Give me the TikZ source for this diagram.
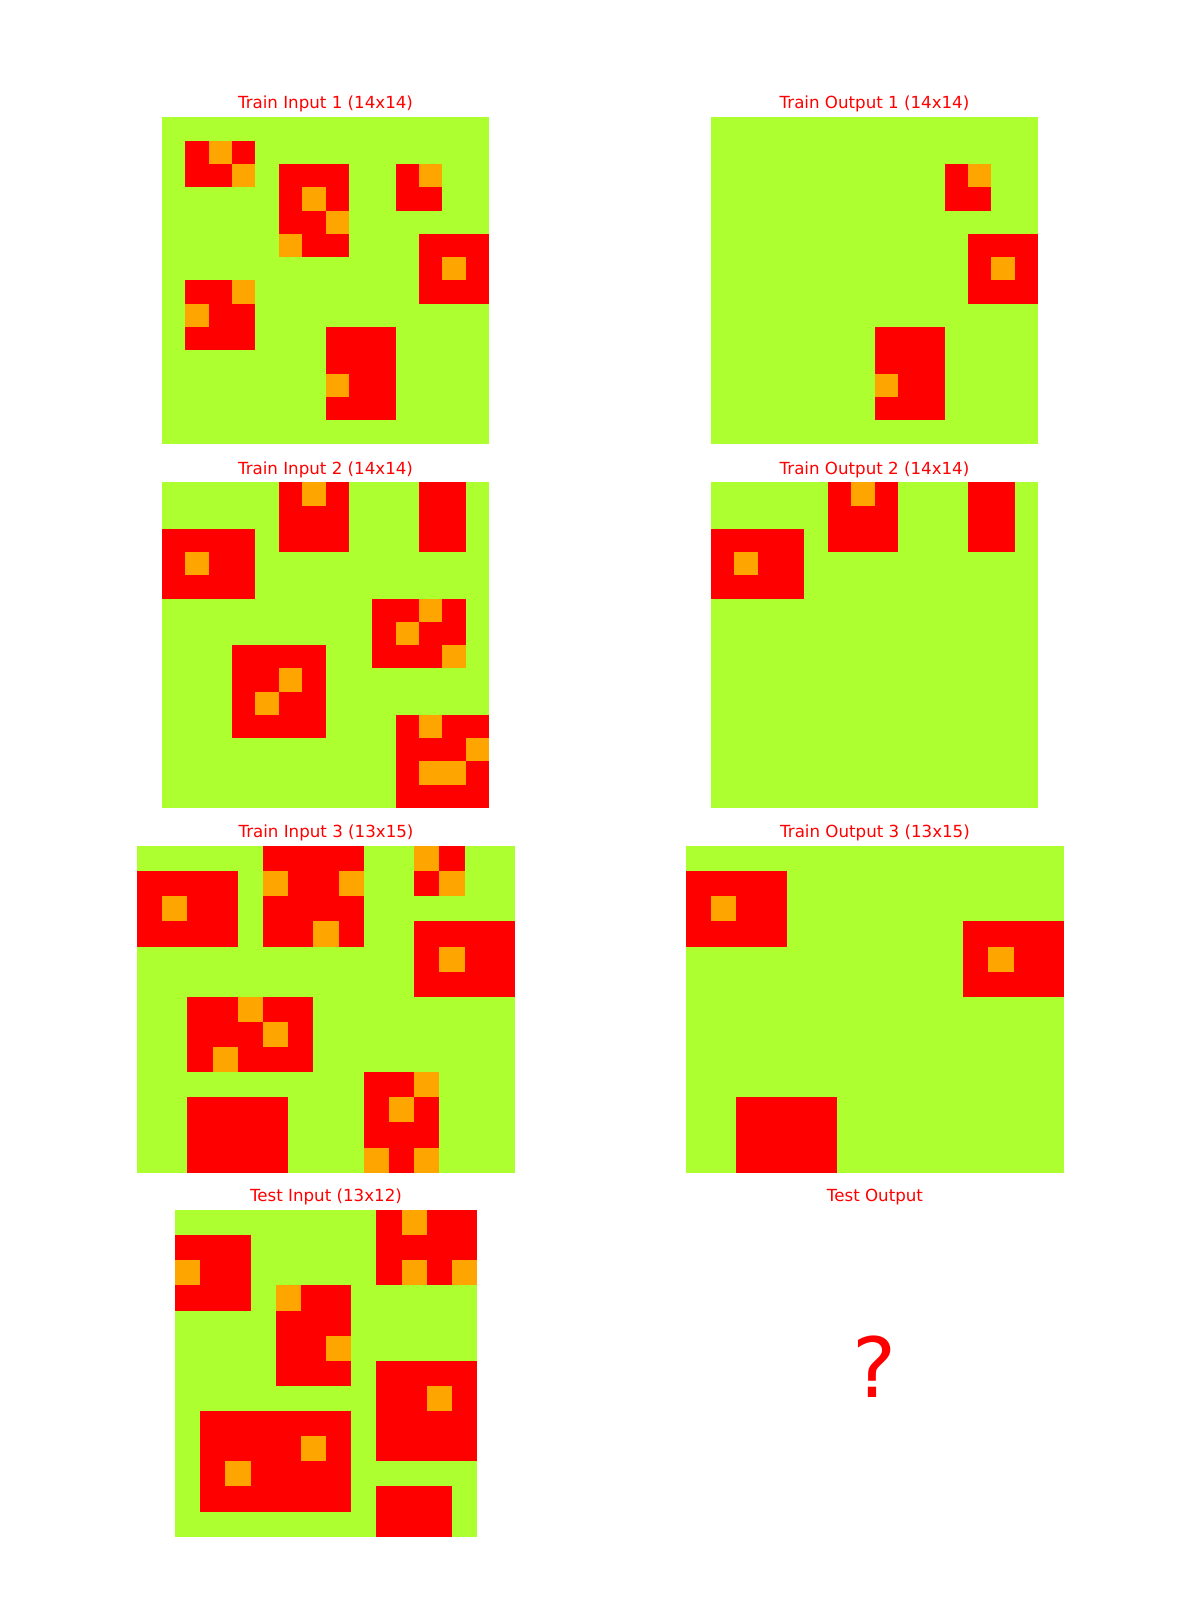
\documentclass[tikz,border=0pt]{standalone}
\usepackage{fontspec}
\setmainfont{DejaVu Sans}
\definecolor{bggreen}{HTML}{ADFF2F}
\definecolor{cred}{HTML}{FF0000}
\definecolor{corange}{HTML}{FFA500}
\definecolor{titlered}{HTML}{FF0000}
\newcommand\orcells[1]{\foreach \cc/\rr in {#1} {\fill[corange] (\cc,\rr) rectangle ++(1,1);}}
\newcommand\redblock[2]{\fill[cred] (#1) rectangle (#2);}
\begin{document}
\begin{tikzpicture}[x=1pt,y=-1pt,
  gtitle/.style={anchor=base,text=titlered,font=\fontsize{16.67}{20}\selectfont,inner sep=0pt},
  qmark/.style={anchor=base,text=titlered,font=\fontsize{83}{90}\selectfont,inner sep=0pt}]
\fill[white] (0,0) rectangle (1200,1600);
\useasboundingbox (0,0) rectangle (1200,1600);

% ---------- Titles ----------
\node[gtitle] (t1) at (325.5,109) {Train Input 1 (14x14)};
\node[gtitle] (t2) at (874.5,109) {Train Output 1 (14x14)};
\node[gtitle] (t3) at (325.5,474) {Train Input 2 (14x14)};
\node[gtitle] (t4) at (874.5,474) {Train Output 2 (14x14)};
\node[gtitle] (t5) at (326,837.7) {Train Input 3 (13x15)};
\node[gtitle] (t6) at (875,837.7) {Train Output 3 (13x15)};
\node[gtitle] (t7) at (326,1201.7) {Test Input (13x12)};
\node[gtitle] (t8) at (875,1201.7) {Test Output};
\node[qmark] (q) at (875,1397) {?};

% ---------- Train Input 1 ----------
\begin{scope}[shift={(162pt,-117.3pt)},x=23.36pt,y=-23.3pt]
\fill[bggreen] (0,0) rectangle (14,14);
\redblock{1,1}{4,3} \orcells{2/1,3/2}
\redblock{5,2}{8,6} \orcells{6/3,7/4,5/5}
\redblock{10,2}{12,4} \orcells{11/2}
\redblock{11,5}{14,8} \orcells{12/6}
\redblock{1,7}{4,10} \orcells{3/7,1/8}
\redblock{7,9}{10,13} \orcells{7/11}
\end{scope}

% ---------- Train Output 1 ----------
\begin{scope}[shift={(711pt,-117.3pt)},x=23.36pt,y=-23.3pt]
\fill[bggreen] (0,0) rectangle (14,14);
\redblock{10,2}{12,4} \orcells{11/2}
\redblock{11,5}{14,8} \orcells{12/6}
\redblock{7,9}{10,13} \orcells{7/11}
\end{scope}

% ---------- Train Input 2 ----------
\begin{scope}[shift={(162pt,-482.3pt)},x=23.36pt,y=-23.25pt]
\fill[bggreen] (0,0) rectangle (14,14);
\redblock{5,0}{8,3} \orcells{6/0}
\redblock{11,0}{13,3}
\redblock{0,2}{4,5} \orcells{1/3}
\redblock{9,5}{13,8} \orcells{11/5,10/6,12/7}
\redblock{3,7}{7,11} \orcells{5/8,4/9}
\redblock{10,10}{14,14} \orcells{11/10,13/11,11/12,12/12}
\end{scope}

% ---------- Train Output 2 ----------
\begin{scope}[shift={(711pt,-482.3pt)},x=23.36pt,y=-23.25pt]
\fill[bggreen] (0,0) rectangle (14,14);
\redblock{5,0}{8,3} \orcells{6/0}
\redblock{11,0}{13,3}
\redblock{0,2}{4,5} \orcells{1/3}
\end{scope}

% ---------- Train Input 3 ----------
\begin{scope}[shift={(137pt,-846pt)},x=25.2pt,y=-25.13pt]
\fill[bggreen] (0,0) rectangle (15,13);
\redblock{0,1}{4,4} \orcells{1/2}
\redblock{5,0}{9,4} \orcells{5/1,8/1,7/3}
\redblock{11,0}{13,2} \orcells{11/0,12/1}
\redblock{11,3}{15,6} \orcells{12/4}
\redblock{2,6}{7,9} \orcells{4/6,5/7,3/8}
\redblock{2,10}{6,13}
\redblock{9,9}{12,13} \orcells{11/9,10/10,9/12,11/12}
\end{scope}

% ---------- Train Output 3 ----------
\begin{scope}[shift={(686pt,-846pt)},x=25.2pt,y=-25.13pt]
\fill[bggreen] (0,0) rectangle (15,13);
\redblock{0,1}{4,4} \orcells{1/2}
\redblock{11,3}{15,6} \orcells{12/4}
\redblock{2,10}{6,13}
\end{scope}

% ---------- Test Input ----------
\begin{scope}[shift={(175pt,-1210pt)},x=25.17pt,y=-25.13pt]
\fill[bggreen] (0,0) rectangle (12,13);
\redblock{0,1}{3,4} \orcells{0/2}
\redblock{8,0}{12,3} \orcells{9/0,9/2,11/2}
\redblock{4,3}{7,7} \orcells{4/3,6/5}
\redblock{8,6}{12,10} \orcells{10/7}
\redblock{1,8}{7,12} \orcells{5/9,2/10}
\redblock{8,11}{11,13}
\end{scope}
\end{tikzpicture}
\end{document}
